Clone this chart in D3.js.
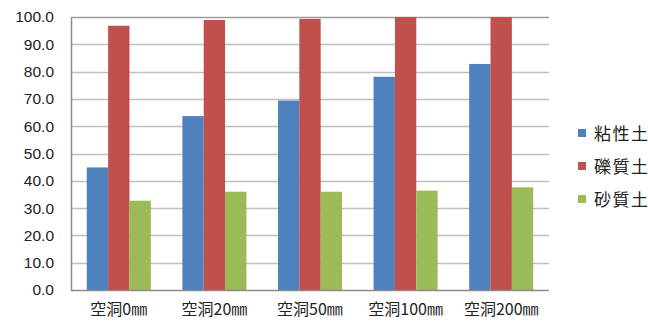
<!DOCTYPE html>
<html>
<head>
<meta charset="utf-8">
<script src="https://cdn.jsdelivr.net/npm/d3@7/dist/d3.min.js"></script>
<style>
  html, body { margin: 0; padding: 0; background: #fff; }
  svg { display: block; }
</style>
</head>
<body>
<svg id="chart" width="648" height="321"></svg>
<script>
// Categories (void size) and soil-type series
const categories = ["空洞0㎜", "空洞20㎜", "空洞50㎜", "空洞100㎜", "空洞200㎜"];
const seriesNames = ["粘性土", "礫質土", "砂質土"];
const clayValues   = [44.9, 63.7, 69.4, 78.1, 82.8];
const gravelValues = [96.8, 98.9, 99.3, 100.0, 100.0];
const sandValues   = [32.7, 36.0, 36.0, 36.4, 37.6];
const yTicks = [0, 10, 20, 30, 40, 50, 60, 70, 80, 90, 100];
const colors = ["#4F81BD", "#C0504D", "#9BBB59"];

const seriesValues = [clayValues, gravelValues, sandValues];

const svg = d3.select("#chart");
const plot = { left: 71, right: 549, top: 17, bottom: 290 };

const x = d3.scaleBand()
  .domain(categories)
  .range([plot.left, plot.right])
  .paddingInner(0.33)
  .paddingOuter(0.165);

const xInner = d3.scaleBand()
  .domain(seriesNames)
  .range([0, x.bandwidth()]);

const y = d3.scaleLinear()
  .domain([0, 100])
  .range([plot.bottom, plot.top]);

// Horizontal gridlines
svg.append("g")
  .selectAll("line")
  .data(yTicks.filter(d => d > 0))
  .join("line")
  .attr("x1", plot.left)
  .attr("x2", plot.right)
  .attr("y1", d => Math.round(y(d)) + 0.5)
  .attr("y2", d => Math.round(y(d)) + 0.5)
  .attr("stroke", d => d === 100 ? "#9a9a9a" : "#bfbfbf")
  .attr("stroke-width", 1.5);

// Bars
const groups = svg.append("g")
  .selectAll("g")
  .data(categories)
  .join("g")
  .attr("transform", d => `translate(${x(d)},0)`);

groups.selectAll("rect")
  .data((c, i) => seriesNames.map((s, k) => ({ s, k, v: seriesValues[k][i] })))
  .join("rect")
  .attr("x", d => xInner(d.s))
  .attr("width", xInner.bandwidth())
  .attr("y", d => y(d.v))
  .attr("height", d => plot.bottom - y(d.v))
  .attr("fill", d => colors[d.k]);

// Y axis
const yAxis = svg.append("g")
  .attr("transform", `translate(${plot.left},0)`)
  .call(d3.axisLeft(y).tickValues(yTicks).tickFormat(d3.format(".1f")).tickSize(0).tickPadding(17));
yAxis.select(".domain").attr("stroke", "#8c8c8c").attr("stroke-width", 1.5);
yAxis.selectAll("text")
  .attr("font-family", "'Liberation Sans', Arial, sans-serif")
  .attr("font-size", 15.5)
  .attr("fill", "#222");

// X axis baseline
svg.append("line")
  .attr("x1", plot.left).attr("x2", plot.right)
  .attr("y1", plot.bottom + 0.5).attr("y2", plot.bottom + 0.5)
  .attr("stroke", "#8c8c8c").attr("stroke-width", 1.5);

// Category labels
svg.append("g")
  .selectAll("text")
  .data(categories)
  .join("text")
  .attr("x", d => x(d) + x.bandwidth() / 2)
  .attr("y", 315)
  .attr("text-anchor", "middle")
  .attr("font-family", "'Noto Sans CJK JP', sans-serif")
  .attr("font-size", 16)
  .attr("fill", "#222")
  .text(d => d);

// Legend
const legend = svg.append("g")
  .selectAll("g")
  .data(seriesNames)
  .join("g")
  .attr("transform", (d, i) => `translate(578, ${133 + i * 33})`);

legend.append("rect")
  .attr("x", 0).attr("y", -4)
  .attr("width", 8).attr("height", 8)
  .attr("fill", (d, i) => colors[i]);

legend.append("text")
  .attr("x", 16)
  .attr("y", 6.5)
  .attr("font-family", "'Noto Sans CJK JP', sans-serif")
  .attr("font-size", 17)
  .attr("letter-spacing", 1.5)
  .attr("fill", "#222")
  .text(d => d);
</script>
</body>
</html>
